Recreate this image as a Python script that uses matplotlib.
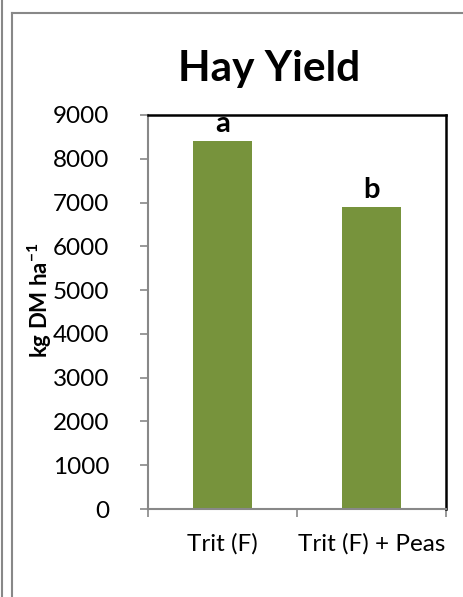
import matplotlib
matplotlib.use('Agg')
from matplotlib import pyplot as plt
from matplotlib.lines import Line2D

categories = ['Trit (F)', 'Trit (F) + Peas']
hay_yield = [8400, 6900]
letters = ['a', 'b']
yticks = [0, 1000, 2000, 3000, 4000, 5000, 6000, 7000, 8000, 9000]

plt.rcParams['font.family'] = ['Lato', 'DejaVu Sans']
plt.rcParams['mathtext.fontset'] = 'custom'
plt.rcParams['mathtext.rm'] = 'Lato'
plt.rcParams['mathtext.bf'] = 'Lato:bold'

fig = plt.figure(figsize=(4.63, 5.97), dpi=100)
ax = fig.add_axes([0.3197, 0.1474, 0.6436, 0.66])

x = list(range(len(categories)))
ax.bar(x, hay_yield, width=0.4, color='#77933C', zorder=2)
for xi, v, s in zip(x, hay_yield, letters):
    ax.text(xi, v + 90, s, ha='center', va='bottom', fontsize=21, fontweight='bold')

ax.set_xlim(-0.5, 1.5)
ax.set_ylim(0, 9000)
ax.set_yticks(yticks)
ax.set_yticklabels([str(t) for t in yticks], fontsize=17.5)
ax.set_xticks([-0.5, 0.5, 1.5])
ax.set_xticklabels([])
ax.set_xticks(x, minor=True)
ax.set_xticklabels(categories, minor=True, fontsize=17.5)
ax.tick_params(axis='x', which='minor', length=0, pad=17)
ax.tick_params(axis='x', which='major', length=6, color='#888888', width=1.2)
ax.tick_params(axis='y', length=6, color='#888888', width=1.2, pad=22)

ax.spines['left'].set_color('#888888')
ax.spines['bottom'].set_color('#888888')
ax.spines['left'].set_linewidth(1.5)
ax.spines['bottom'].set_linewidth(1.5)
ax.spines['top'].set_color('black')
ax.spines['right'].set_color('black')
ax.spines['top'].set_linewidth(1.8)
ax.spines['right'].set_linewidth(1.8)

ax.set_ylabel('kg DM ha$^{\\mathbf{-1}}$', fontsize=16, fontweight='bold')
ax.yaxis.set_label_coords(-0.316, 0.53)
fig.text(0.582, 0.885, 'Hay Yield', ha='center', va='center', fontsize=30.5, fontweight='bold')

# outer frame lines
fig.add_artist(Line2D([2 / 463, 2 / 463], [0, 1], color='#888888', lw=1.5))
fig.add_artist(Line2D([12 / 463, 12 / 463], [0, 1 - 13 / 597], color='#888888', lw=1.5))
fig.add_artist(Line2D([12 / 463, 1], [1 - 13 / 597, 1 - 13 / 597], color='#888888', lw=1.5))

fig.savefig('out.png', dpi=100)
